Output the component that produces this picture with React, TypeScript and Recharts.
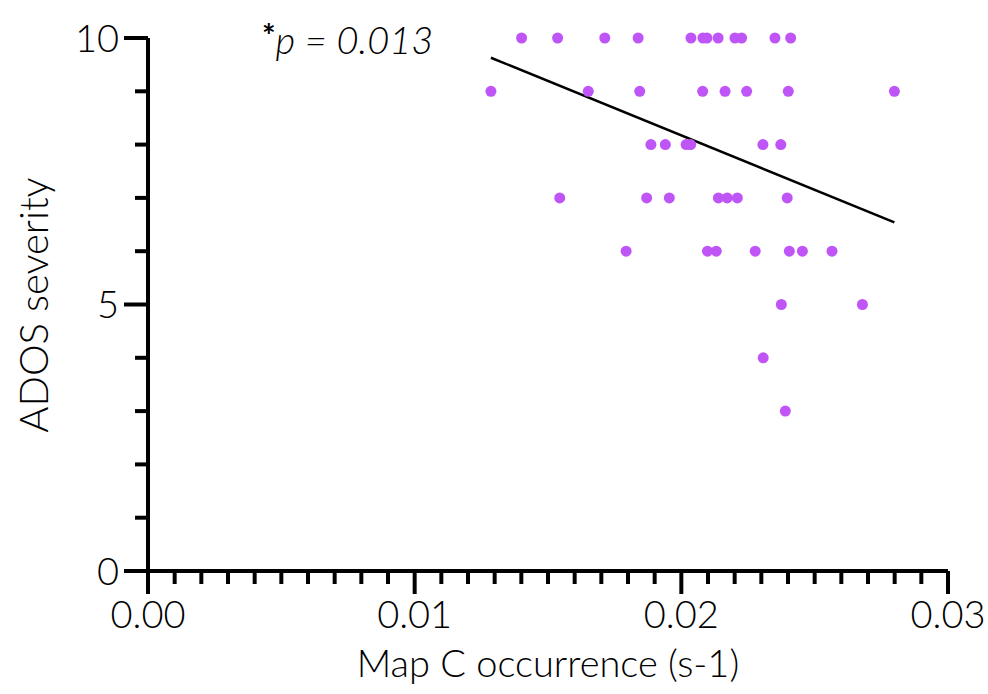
import { ReferenceLine, Scatter, ScatterChart, XAxis, YAxis } from "recharts";

// Map C occurrence (s-1) per subject, with matching ADOS severity
const occurrence = [
  0.01401, 0.01536, 0.01713, 0.01838, 0.02036, 0.02081, 0.02096, 0.02138, 0.02201, 0.02226, 0.02351, 0.0241,
  0.01286, 0.01651, 0.01844, 0.0208, 0.02164, 0.02245, 0.02401, 0.02799,
  0.01886, 0.0194, 0.02018, 0.02035, 0.02306, 0.02373,
  0.01544, 0.0187, 0.01955, 0.02139, 0.02172, 0.0221, 0.02397,
  0.01793, 0.02098, 0.02131, 0.02277, 0.02405, 0.02454, 0.02565,
  0.02375, 0.02679,
  0.02307,
  0.0239,
];
const severity = [
  10, 10, 10, 10, 10, 10, 10, 10, 10, 10, 10, 10,
  9, 9, 9, 9, 9, 9, 9, 9,
  8, 8, 8, 8, 8, 8,
  7, 7, 7, 7, 7, 7, 7,
  6, 6, 6, 6, 6, 6, 6,
  5, 5,
  4,
  3,
];

// fitted line end points
const fitX = [0.01286, 0.02799];
const fitY = [9.63, 6.54];

const xMajor = [0, 0.01, 0.02, 0.03];
const xTicks = Array.from({ length: 31 }, (_, i) => Math.round(i * 10) / 10000);
const yMajor = [0, 5, 10];
const yTicks = [0, 1, 2, 3, 4, 5, 6, 7, 8, 9, 10];

const points = occurrence.map((x, i) => ({ x, y: severity[i] }));

const FONT = "Lato, 'Open Sans', sans-serif";
const DOT = "#bf55f6";
const AXIS_W = 4;

function XTick(props: any) {
  const { x, y, payload } = props;
  const v = payload.value as number;
  const major = xMajor.some((m) => Math.abs(m - v) < 1e-9);
  return (
    <g>
      <line x1={x} x2={x} y1={y} y2={y + (major ? 23 : 13)} stroke="#000" strokeWidth={AXIS_W} />
      {major && (
        <text x={x} y={y + 57} textAnchor="middle" fontFamily={FONT} fontWeight={300} fontSize={38} fill="#000">
          {v.toFixed(2)}
        </text>
      )}
    </g>
  );
}

function YTick(props: any) {
  const { x, y, payload } = props;
  const v = payload.value as number;
  const major = yMajor.includes(v);
  return (
    <g>
      <line x1={x} x2={x - (major ? 24 : 13)} y1={y} y2={y} stroke="#000" strokeWidth={AXIS_W} />
      {major && (
        <text x={x - 29} y={y} dy="0.36em" textAnchor="end" fontFamily={FONT} fontWeight={300} fontSize={38} fill="#000">
          {v}
        </text>
      )}
    </g>
  );
}

export default function App() {
  return (
    <div style={{ position: "absolute", left: 0, top: 0, width: 988, height: 694, background: "#fff" }}>
      <ScatterChart width={988} height={694} margin={{ top: 38, right: 40, bottom: 63, left: 48 }}>
        <XAxis
          type="number"
          dataKey="x"
          domain={[0, 0.03]}
          ticks={xTicks}
          interval={0}
          tick={<XTick />}
          tickLine={false}
          tickSize={0}
          tickMargin={0}
          height={60}
          axisLine={{ stroke: "#000", strokeWidth: AXIS_W }}
        />
        <YAxis
          type="number"
          dataKey="y"
          domain={[0, 10]}
          ticks={yTicks}
          interval={0}
          tick={<YTick />}
          tickLine={false}
          tickSize={0}
          tickMargin={0}
          width={100}
          axisLine={{ stroke: "#000", strokeWidth: AXIS_W }}
        />
        <ReferenceLine
          segment={[
            { x: fitX[0], y: fitY[0] },
            { x: fitX[1], y: fitY[1] },
          ]}
          stroke="#000"
          strokeWidth={2.5}
        />
        <Scatter
          data={points}
          isAnimationActive={false}
          shape={(p: any) => <circle cx={p.cx} cy={p.cy} r={5.5} fill={DOT} />}
        />
      </ScatterChart>
      <div
        style={{
          position: "absolute",
          left: 262,
          top: 14,
          fontFamily: FONT,
          fontWeight: 300,
          fontSize: 38,
          fontStyle: "italic",
          whiteSpace: "nowrap",
          lineHeight: "44px",
        }}
      >
        <span style={{ fontStyle: "normal", fontWeight: 700, fontSize: 32, verticalAlign: "6px" }}>*</span>
        p = 0.013
      </div>
      <div
        style={{
          position: "absolute",
          left: 148,
          width: 800,
          top: 640,
          textAlign: "center",
          fontFamily: FONT,
          fontWeight: 300,
          fontSize: 38,
          lineHeight: "44px",
          whiteSpace: "nowrap",
        }}
      >
        Map C occurrence (s-1)
      </div>
      <div
        style={{
          position: "absolute",
          left: 33 - 200,
          top: 305 - 22,
          width: 400,
          textAlign: "center",
          transform: "rotate(-90deg)",
          fontFamily: FONT,
          fontWeight: 300,
          fontSize: 40,
          lineHeight: "44px",
          whiteSpace: "nowrap",
        }}
      >
        ADOS severity
      </div>
    </div>
  );
}
